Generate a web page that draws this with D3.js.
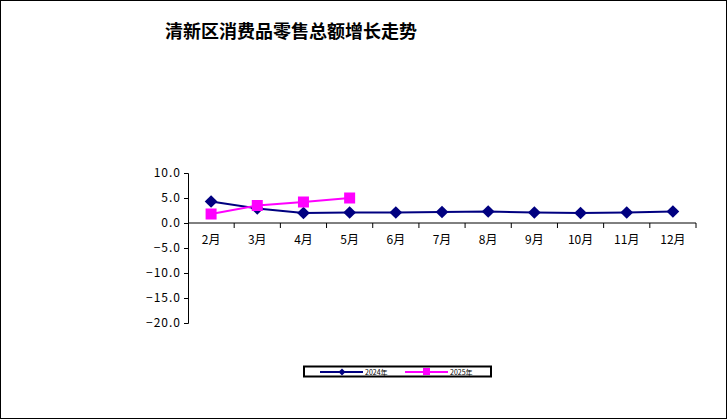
<!DOCTYPE html><html><head><meta charset="utf-8"><script src="https://cdn.jsdelivr.net/npm/d3@7"></script>
<style>body{margin:0;background:#fff}text{font-family:"Noto Sans CJK SC","DejaVu Sans Mono",sans-serif}</style></head><body>
<svg id="c" width="727" height="419"></svg>
<script>
const categories=["2月","3月","4月","5月","6月","7月","8月","9月","10月","11月","12月"];
const series2024=[4.3,2.9,2.0,2.1,2.1,2.2,2.3,2.1,2.0,2.1,2.3];
const series2025=[1.8,3.5,4.2,5.0];
const yTicks=[10,5,0,-5,-10,-15,-20];
const svg=d3.select("#c");
svg.append("rect").attr("x",0.5).attr("y",0.5).attr("width",726).attr("height",418).attr("fill","#fff").attr("stroke","#000");
svg.append("text").attr("x",165).attr("y",38).attr("font-size",18).attr("font-weight","bold").text("清新区消费品零售总额增长走势");
const x=d3.scaleBand().domain(categories).range([188,696]);
const y=d3.scaleLinear().domain([-20,10]).range([323,173]);
const ya=svg.append("g").attr("transform","translate(188,0)").call(d3.axisLeft(y).tickValues(yTicks).tickFormat(d3.format(".1f")).tickSize(4));
ya.select(".domain").attr("stroke","#000");
ya.selectAll("text").attr("font-size",12).attr("fill","#000").attr("letter-spacing",1);
const xa=svg.append("g").attr("transform",`translate(0,${y(0)})`).call(d3.axisBottom(x).tickSize(0).tickPadding(12));
xa.select(".domain").attr("d",`M188,0H696`).attr("stroke","#000");
xa.selectAll("text").attr("font-size",12).attr("fill","#000");
xa.selectAll(".sep").data(categories).enter().append("line").attr("x1",d=>x(d)+x.bandwidth()).attr("x2",d=>x(d)+x.bandwidth()).attr("y1",0).attr("y2",5).attr("stroke","#000");
const line=d3.line().x((d,i)=>x(categories[i])+x.bandwidth()/2).y(d=>y(d));
svg.append("path").attr("d",line(series2024)).attr("fill","none").attr("stroke","#000080").attr("stroke-width",2);
svg.append("path").attr("d",line(series2025)).attr("fill","none").attr("stroke","#ff00ff").attr("stroke-width",2);
svg.selectAll(".d").data(series2024).enter().append("rect").attr("x",-4.5).attr("y",-4.5).attr("width",9).attr("height",9).attr("fill","#000080")
 .attr("transform",(d,i)=>`translate(${x(categories[i])+x.bandwidth()/2},${y(d)}) rotate(45)`);
svg.selectAll(".s").data(series2025).enter().append("rect").attr("width",11).attr("height",11).attr("fill","#ff00ff")
 .attr("x",(d,i)=>x(categories[i])+x.bandwidth()/2-5.5).attr("y",d=>y(d)-5.5);
const lg=svg.append("g");
lg.append("rect").attr("x",304).attr("y",366.5).attr("width",187).attr("height",10).attr("fill","#fff").attr("stroke","#000").attr("stroke-width",2);
lg.append("line").attr("x1",320).attr("x2",363).attr("y1",372).attr("y2",372).attr("stroke","#000080").attr("stroke-width",2);
lg.append("rect").attr("x",-2.5).attr("y",-2.5).attr("width",5).attr("height",5).attr("fill","#000080").attr("transform","translate(342,372) rotate(45)");
lg.append("text").attr("x",365).attr("y",375).attr("font-size",7).text("2024年");
lg.append("line").attr("x1",405).attr("x2",448).attr("y1",372).attr("y2",372).attr("stroke","#ff00ff").attr("stroke-width",2);
lg.append("rect").attr("x",423).attr("y",368).attr("width",7).attr("height",7).attr("fill","#ff00ff");
lg.append("text").attr("x",450).attr("y",375).attr("font-size",7).text("2025年");
</script></body></html>
